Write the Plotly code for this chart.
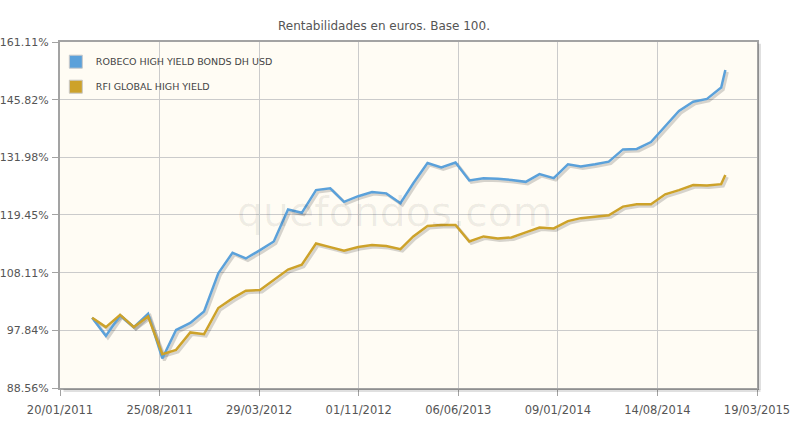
import math
import plotly.graph_objects as go

# ---------------- data ----------------
dates = [
    "2011-03-31", "2011-04-30", "2011-05-31", "2011-06-30", "2011-07-31", "2011-08-31",
    "2011-09-30", "2011-10-31", "2011-11-30", "2011-12-31", "2012-01-31", "2012-02-29",
    "2012-03-31", "2012-04-30", "2012-05-31", "2012-06-30", "2012-07-31", "2012-08-31",
    "2012-09-30", "2012-10-31", "2012-11-30", "2012-12-31", "2013-01-31", "2013-02-28",
    "2013-03-31", "2013-04-30", "2013-05-31", "2013-06-30", "2013-07-31", "2013-08-31",
    "2013-09-30", "2013-10-31", "2013-11-30", "2013-12-31", "2014-01-31", "2014-02-28",
    "2014-03-31", "2014-04-30", "2014-05-31", "2014-06-30", "2014-07-31", "2014-08-31",
    "2014-09-30", "2014-10-31", "2014-11-30", "2014-12-31", "2015-01-09",
]
robeco = [100.0, 96.9, 100.4, 98.4, 100.7, 93.2, 97.9, 99.1, 101.1, 108.0,
          111.9, 110.8, 112.4, 114.1, 120.6, 119.9, 124.7, 125.1, 122.2, 123.4,
          124.3, 124.0, 121.9, 126.2, 130.7, 129.7, 130.8, 126.8, 127.3, 127.2,
          126.9, 126.5, 128.2, 127.3, 130.4, 129.9, 130.4, 131.0, 133.8, 133.9,
          135.5, 139.3, 143.0, 145.3, 146.0, 148.9, 153.5]
rfi = [100.0, 98.4, 100.5, 98.4, 100.2, 93.9, 94.6, 97.5, 97.2, 101.7,
       103.4, 104.8, 104.9, 106.8, 108.7, 109.6, 113.7, 113.0, 112.3, 113.0,
       113.4, 113.2, 112.6, 115.1, 117.2, 117.4, 117.4, 114.1, 115.1, 114.7,
       114.9, 115.9, 116.9, 116.7, 118.2, 118.8, 119.1, 119.4, 121.2, 121.7,
       121.7, 123.8, 124.7, 125.8, 125.7, 126.0, 128.0]
series_names = ["ROBECO HIGH YIELD BONDS DH USD", "RFI GLOBAL HIGH YIELD"]
series_colors = ["#5ba1da", "#cda22a"]

x_tickvals = ["2011-01-20", "2011-08-25", "2012-03-29", "2012-11-01",
              "2013-06-06", "2014-01-09", "2014-08-14", "2015-03-19"]
x_ticktext = ["20/01/2011", "25/08/2011", "29/03/2012", "01/11/2012",
              "06/06/2013", "09/01/2014", "14/08/2014", "19/03/2015"]
y_tickvals = [88.56, 97.84, 108.11, 119.45, 131.98, 145.82, 161.11]
y_ticktext = ["88.56%", "97.84%", "108.11%", "119.45%", "131.98%", "145.82%", "161.11%"]

title_text = "Rentabilidades en euros. Base 100."
watermark = "quefondos.com"

# ---------------- figure ----------------
FONT = "DejaVu Sans"
x_range = ["2011-01-20", "2015-03-19"]
y_range = [math.log10(88.56), math.log10(161.11)]
# shadow axes: shifted ~2px right / down
x_range_sh = ["2011-01-15 14:00", "2015-03-14 14:00"]
y_range_sh = [y_range[0] + 0.0015, y_range[1] + 0.0015]

fig = go.Figure()

for vals in (robeco, rfi):
    fig.add_trace(go.Scatter(
        x=dates, y=vals, mode="lines", xaxis="x2", yaxis="y2",
        line=dict(color="rgba(0,0,0,0.16)", width=3),
        showlegend=False, hoverinfo="skip"))

for i, vals in enumerate((robeco, rfi)):
    fig.add_trace(go.Scatter(
        x=dates, y=vals, mode="lines", xaxis="x3", yaxis="y3",
        line=dict(color=series_colors[i], width=2.5),
        name=series_names[i], showlegend=False))

for i in range(2):
    fig.add_trace(go.Scatter(
        x=[None], y=[None], mode="markers", name=series_names[i],
        legendgroup=str(i),
        marker=dict(symbol="square", size=13, color=series_colors[i],
                    line=dict(color="#c8c8c8", width=1))))

fig.update_layout(
    width=796, height=421,
    margin=dict(l=60, r=39, t=42, b=33, autoexpand=False),
    paper_bgcolor="white",
    plot_bgcolor="#fffcf4",
    font=dict(family=FONT, size=11, color="#555555"),
    title=dict(text=title_text, x=384 / 796, xanchor="center", xref="container",
               y=1 - 26 / 421, yanchor="middle", yref="container",
               font=dict(family=FONT, size=12, color="#555555")),
    showlegend=True,
    legend=dict(x=-0.006, y=0.985, xanchor="left", yanchor="top",
                bgcolor="rgba(0,0,0,0)", traceorder="grouped", tracegroupgap=6,
                font=dict(family=FONT, size=9.5, color="#444444")),
    xaxis=dict(type="date", range=x_range, tickvals=x_tickvals, ticktext=x_ticktext,
               showgrid=True, gridcolor="#cbcbcb", gridwidth=1, automargin=False,
               showline=True, linecolor="#a3a3a3", linewidth=2, mirror=True,
               ticks="outside", ticklen=6, tickcolor="#a3a3a3",
               tickfont=dict(family=FONT, size=11.5, color="#555555"),
               ticklabelstandoff=4, zeroline=False, fixedrange=True),
    yaxis=dict(type="log", range=y_range, tickvals=y_tickvals, ticktext=y_ticktext,
               showgrid=True, gridcolor="#cbcbcb", gridwidth=1, automargin=False,
               showline=True, linecolor="#a3a3a3", linewidth=2, mirror=True,
               ticks="outside", ticklen=6, tickcolor="#a3a3a3",
               tickfont=dict(family=FONT, size=11, color="#555555"),
               ticklabelstandoff=1, zeroline=False, fixedrange=True),
    xaxis2=dict(type="date", range=x_range_sh, overlaying="x", visible=False, fixedrange=True),
    yaxis2=dict(type="log", range=y_range_sh, overlaying="y", visible=False, fixedrange=True),
    xaxis3=dict(type="date", range=x_range, overlaying="x", visible=False, fixedrange=True),
    yaxis3=dict(type="log", range=y_range, overlaying="y", visible=False, fixedrange=True),
)

fig.add_annotation(text=watermark, xref="paper", yref="paper", x=0.48, y=0.51,
                   showarrow=False, xanchor="center", yanchor="middle",
                   font=dict(family=FONT, size=41, color="rgba(0,0,0,0.065)"))

# frame shadow right & bottom
fig.add_shape(type="line", xref="paper", yref="paper", xsizemode="pixel", xanchor=1,
              x0=2.5, x1=2.5, y0=-0.005, y1=0.995,
              line=dict(color="rgba(0,0,0,0.12)", width=3), layer="above")
fig.add_shape(type="line", xref="paper", yref="paper", ysizemode="pixel", yanchor=0,
              y0=-2.5, y1=-2.5, x0=0.005, x1=1.005,
              line=dict(color="rgba(0,0,0,0.12)", width=3), layer="above")

fig.write_html("out.html")
